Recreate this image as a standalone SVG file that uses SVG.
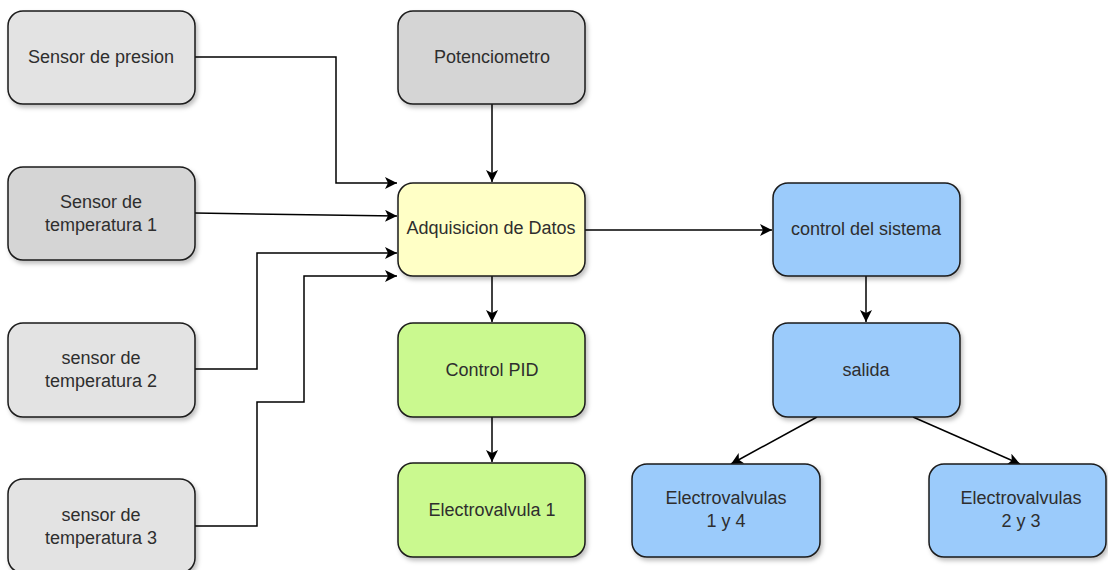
<svg xmlns="http://www.w3.org/2000/svg" width="1108" height="570" viewBox="0 0 1108 570">
<defs>
<filter id="sh" x="-10%" y="-10%" width="130%" height="140%">
<feDropShadow dx="2" dy="3" stdDeviation="2" flood-color="#000" flood-opacity="0.25"/>
</filter>
<marker id="arr" markerWidth="13" markerHeight="12" refX="12" refY="6" orient="auto" markerUnits="userSpaceOnUse">
<path d="M0,0 L12,6 L0,12 L3,6 Z" fill="#000"/>
</marker>
<style>
.box{stroke:#1a1a1a;stroke-width:1.5;filter:url(#sh)}
.g1{fill:#e3e3e3}
.g2{fill:#d5d5d5}
.y{fill:#ffffc6}
.gr{fill:#caf98f}
.b{fill:#9bcbfb}
text{font-family:"Liberation Sans",Arial,sans-serif;font-size:18px;fill:#2e2e2e;text-anchor:middle;dominant-baseline:central}
.c{fill:none;stroke:#000;stroke-width:1.5;marker-end:url(#arr)}
</style>
</defs>
<rect width="1108" height="570" fill="#fff"/>
<g id="connectors">
<path class="c" d="M195,57 H336 V183 H397"/>
<path class="c" d="M195,213 L397,216"/>
<path class="c" d="M195,369 H257 V253 H397"/>
<path class="c" d="M195,526 H257 V402 H304 V276 H397"/>
<path class="c" d="M492,104 V182"/>
<path class="c" d="M492,276 V322"/>
<path class="c" d="M492,417 V462"/>
<path class="c" d="M585,230 H772"/>
<path class="c" d="M866,276 V322"/>
<path class="c" d="M817,417 L731,464"/>
<path class="c" d="M913,417 L1020,464"/>
</g>
<g id="sensor-presion"><rect class="box g1" x="8" y="11" width="187" height="93" rx="15"/><text x="101" y="57">Sensor de presion</text></g>
<g id="potenciometro"><rect class="box g2" x="398" y="11" width="187" height="93" rx="15"/><text x="492" y="57">Potenciometro</text></g>
<g id="sensor-temp1"><rect class="box g2" x="8" y="167" width="187" height="93" rx="15"/><text x="101" y="202">Sensor de</text><text x="101" y="225">temperatura 1</text></g>
<g id="adquisicion"><rect class="box y" x="398" y="183" width="187" height="93" rx="15"/><text x="491" y="228">Adquisicion de Datos</text></g>
<g id="control-sistema"><rect class="box b" x="773" y="183" width="187" height="93" rx="15"/><text x="866" y="229">control del sistema</text></g>
<g id="sensor-temp2"><rect class="box g1" x="8" y="323" width="187" height="94" rx="15"/><text x="101" y="358">sensor de</text><text x="101" y="381">temperatura 2</text></g>
<g id="control-pid"><rect class="box gr" x="398" y="323" width="187" height="94" rx="15"/><text x="492" y="370">Control PID</text></g>
<g id="salida"><rect class="box b" x="773" y="323" width="187" height="94" rx="15"/><text x="866" y="370">salida</text></g>
<g id="sensor-temp3"><rect class="box g1" x="8" y="479" width="187" height="94" rx="15"/><text x="101" y="515">sensor de</text><text x="101" y="538">temperatura 3</text></g>
<g id="electrovalvula1"><rect class="box gr" x="398" y="463" width="187" height="94" rx="15"/><text x="492" y="510">Electrovalvula 1</text></g>
<g id="ev-1y4"><rect class="box b" x="632" y="464" width="188" height="93" rx="15"/><text x="726" y="498">Electrovalvulas</text><text x="726" y="521">1 y 4</text></g>
<g id="ev-2y3"><rect class="box b" x="929" y="464" width="177" height="93" rx="15"/><text x="1021" y="498">Electrovalvulas</text><text x="1021" y="521">2 y 3</text></g>
</svg>
